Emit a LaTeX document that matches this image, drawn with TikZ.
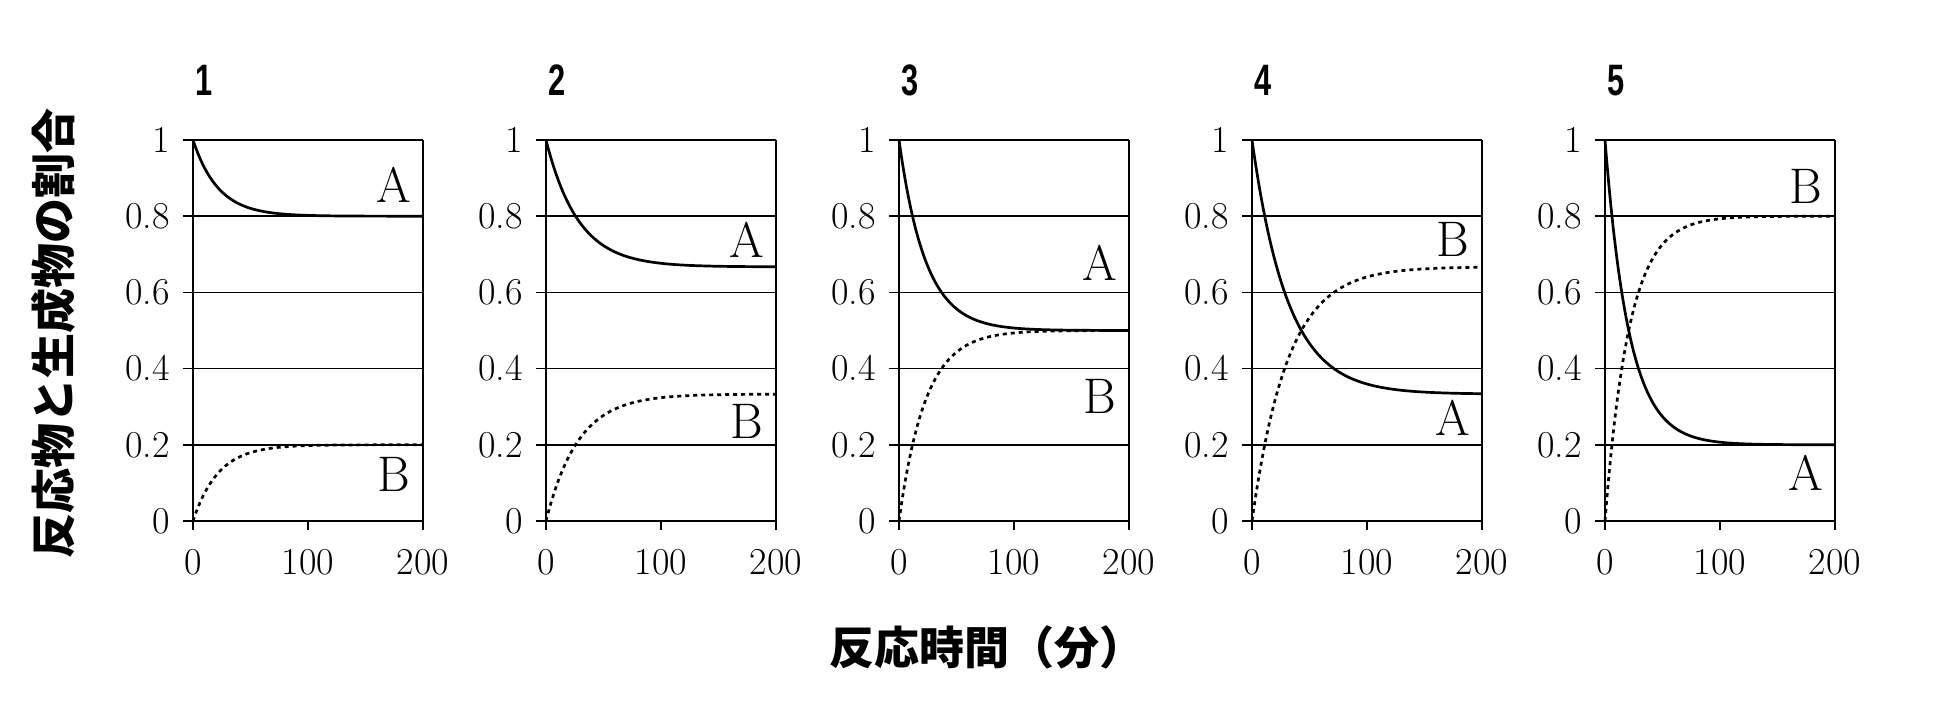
\documentclass[tikz,border=0pt]{standalone}
\usepackage{fontspec}
\newfontfamily\jpfont{Noto Sans CJK JP}
\newfontfamily\numfont[FakeStretch=0.7]{Liberation Sans}

\begin{document}
\begin{tikzpicture}[
x = 0.5pt, y = 0.5pt,
every node/.style = {inner sep=0pt},
grid/.style = {line width=0.8pt},
curveA/.style = {line width=1.35pt},
curveB/.style = {line width=1.35pt, dash pattern=on 2pt off 2pt},
ticklab/.style = {font=\fontsize{19}{20}\selectfont},
curvelab/.style = {font=\fontsize{25}{26}\selectfont},
panelnum/.style = {font=\numfont\bfseries\fontsize{22}{24}\selectfont},
axtitle/.style = {font=\jpfont\bfseries\fontsize{22.5}{24}\selectfont}
                        ]
    \useasboundingbox (0,0) rectangle (1940,726);
    % one panel per equilibrium
    \foreach \n/\aeq/\tc/\va/\vb in {1/0.8/22/0.881/0.123,
                                      2/0.667/28/0.738/0.262,
                                      3/0.5/23/0.677/0.328,
                                      4/0.333/31/0.270/0.738,
                                      5/0.2/21/0.126/0.877}{
      \begin{scope}[shift={({193+353*(\n-1)},205)}, x=0.575pt, y=190.5pt]
        \foreach \v in {0,0.2,0.4,0.6,0.8,1}
          \draw[grid] (-8.7,\v) -- (200,\v);
        \foreach \t in {0,100,200}
          \draw[grid] (\t,-0.0236) -- (\t,0);
        \draw[grid] (0,0) -- (0,1) (200,0) -- (200,1);
        \foreach \v [count=\j] in {0,0.2,0.4,0.6,0.8,1}
          \node[ticklab, anchor=east] (p\n-y\j) at (-20,\v) {\v};
        \foreach \t [count=\j] in {0,100,200}
          \node[ticklab] (p\n-x\j) at (\t,-0.108) {\t};
        \draw[curveA] plot[domain=0:200, samples=120, smooth]
              (\x, {\aeq+(1-\aeq)*exp(-\x/\tc)});
        \draw[curveB] plot[domain=0:200, samples=120, smooth]
              (\x, {(1-\aeq)*(1-exp(-\x/\tc))});
        \node[curvelab] (p\n-A) at (175,\va) {A};
        \node[curvelab] (p\n-B) at (175,\vb) {B};
        \node[panelnum] (p\n-num) at (9.6,1.157) {\n};
      \end{scope}
    }
    \node[axtitle, rotate=90] (ytitle) at (53,392) {反応物と生成物の割合};
    \node[axtitle] (xtitle) at (987,79) {反応時間（分）};
\end{tikzpicture}
\end{document}
